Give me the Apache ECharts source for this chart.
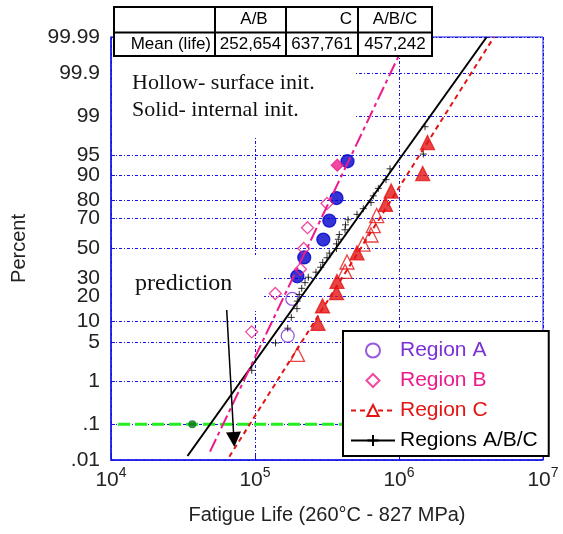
<!DOCTYPE html>
<html>
<head>
<meta charset="utf-8">
<script src="https://cdn.jsdelivr.net/npm/echarts@6/dist/echarts.min.js"></script>
<style>
  html, body { margin: 0; padding: 0; background: #fff; }
  #chart { width: 563px; height: 534px; }
</style>
</head>
<body>
<div id="chart"></div>
<script>
// ---------------- DATA ----------------
// Region A : fatigue life (cycles), plotting percent, solid = internal initiation
const lifeA  = [168700, 181600, 196700, 219700, 298200, 328100, 368100, 438900];
const pctA   = [6.25, 18.75, 31.25, 43.75, 56.25, 68.75, 81.25, 93.75];
const solidA = [false, false, true, true, true, true, true, true];

// Region B
const lifeB  = [94900, 138400, 207000, 217900, 231500, 316200, 372800];
const pctB   = [7.14, 21.43, 35.71, 50.0, 64.29, 78.57, 92.86];
const solidB = [false, false, false, false, false, false, true];

// Region C
const lifeC  = [197300, 273800, 294300, 368100, 371000, 421700, 435400, 510900,
                562300, 639000, 663000, 700000, 806000, 882700, 1461000, 1577000];
const pctC   = [3.125, 9.375, 15.625, 21.875, 28.125, 34.375, 40.625, 46.875,
                53.125, 59.375, 65.625, 71.875, 78.125, 84.375, 90.625, 96.875];
const solidC = [false, true, true, true, true, false, false, true,
                false, false, false, false, true, true, true, true];

// Regions A/B/C combined (+ markers)
const lifeABC = [94900, 138800, 168700, 178700, 195700, 196700, 203000, 211000,
                 222500, 234500, 265200, 286000, 295200, 316200, 328100, 368100,
                 368100, 378800, 384900, 421700, 425000, 442400, 510900, 565000,
                 639000, 663000, 718300, 812300, 866000, 1475000, 1516000];
const pctABC  = [1.61, 4.84, 8.06, 11.29, 14.52, 17.74, 20.97, 24.19, 27.42, 30.65,
                 33.87, 37.10, 40.32, 43.55, 46.77, 50.00, 53.23, 56.45, 59.68, 62.90,
                 66.13, 69.35, 72.58, 75.81, 79.03, 82.26, 85.48, 88.71, 91.94, 95.16, 98.39];

// Fitted lines: [life, percent] end points
const fitC   = [[66300, 0.01256], [4568000, 99.99]];
const fitABC = [[33980, 0.01316], [4064000, 99.99]];
const fitAB  = [[48700, 0.01765], [1149000, 99.99]];

// Prediction level (green) and its point, arrow
const predLine  = [[11200, 0.1], [1000000, 0.1]];
const predPoint = [[36700, 0.1]];
const arrowPts  = [[63600, 13.98], [71380, 0.0392]];

// Axis ticks
const yTickPct    = [99.99, 99.9, 99, 95, 90, 80, 70, 50, 30, 20, 10, 5, 1, 0.1, 0.01];
const yTickLabels = ['99.99', '99.9', '99', '95', '90', '80', '70', '50', '30', '20', '10', '5', '1', '.1', '.01'];

// Table
const tableHeader = ['', 'A/B', 'C', 'A/B/C'];
const tableRow    = ['Mean (life)', '252,654', '637,761', '457,242'];

// Notes
const noteText = 'Hollow- surface init.\nSolid- internal init.';
const predText = 'prediction';
const xName = 'Fatigue Life (260°C - 827 MPa)';
const yName = 'Percent';

// ---------------- probability scale (normal quantile) ----------------
function probit(p) {
  const a = [-3.969683028665376e+01, 2.209460984245205e+02, -2.759285104469687e+02,
             1.383577518672690e+02, -3.066479806614716e+01, 2.506628277459239e+00];
  const b = [-5.447609879822406e+01, 1.615858368580409e+02, -1.556989798598866e+02,
             6.680131188771972e+01, -1.328068155288572e+01];
  const c = [-7.784894002430293e-03, -3.223964580411365e-01, -2.400758277161838e+00,
             -2.549732539343734e+00, 4.374664141464968e+00, 2.938163982698783e+00];
  const d = [7.784695709041462e-03, 3.224671290700398e-01, 2.445134137142996e+00,
             3.754408661907416e+00];
  const plow = 0.02425, phigh = 1 - plow;
  let q, r;
  if (p < plow) {
    q = Math.sqrt(-2 * Math.log(p));
    return (((((c[0]*q+c[1])*q+c[2])*q+c[3])*q+c[4])*q+c[5]) / ((((d[0]*q+d[1])*q+d[2])*q+d[3])*q+1);
  }
  if (p <= phigh) {
    q = p - 0.5; r = q * q;
    return (((((a[0]*r+a[1])*r+a[2])*r+a[3])*r+a[4])*r+a[5])*q / (((((b[0]*r+b[1])*r+b[2])*r+b[3])*r+b[4])*r+1);
  }
  q = Math.sqrt(-2 * Math.log(1 - p));
  return -(((((c[0]*q+c[1])*q+c[2])*q+c[3])*q+c[4])*q+c[5]) / ((((d[0]*q+d[1])*q+d[2])*q+d[3])*q+1);
}
const P = pct => probit(pct / 100);
const yTickVals = yTickPct.map(P);
const yMin = P(0.01), yMax = P(99.99);

// ---------------- styles ----------------
const SANS = '"Liberation Sans", Arial, sans-serif';
const SERIF = '"Liberation Serif", "Times New Roman", serif';
const BLUE = '#1414e6';
const PURPLE = '#7B2FD8';
const PINK = '#EE1A8A';
const RED = '#E31414';
const FILLBLUE = '#0000CC';
const GREEN = '#22EE22';
// legend diamond icon padded to the 44x14 legend icon box so it keeps its shape
const LEGEND_DIAMOND = 'path://M0,7L0.01,7M22,0.5L28.5,7L22,13.5L15.5,7ZM43.99,7L44,7';

const chart = echarts.init(document.getElementById('chart'), null, { renderer: 'canvas' });

const pts = (life, pct, solid, solidStyle) => life.map((v, i) => {
  const item = { value: [v, P(pct[i])] };
  if (solid && solid[i]) item.itemStyle = solidStyle;
  return item;
});
const seg = arr => arr.map(d => [d[0], P(d[1])]);

// table graphic
const colX = [114, 215, 286, 358, 432];
const rowY = [7, 32.5, 56];
const tableChildren = [
  { type: 'rect', shape: { x: colX[0], y: rowY[0], width: colX[4] - colX[0], height: rowY[2] - rowY[0] },
    style: { fill: '#fff', stroke: '#000', lineWidth: 2 } },
  { type: 'line', shape: { x1: colX[0], y1: rowY[1], x2: colX[4], y2: rowY[1] }, style: { stroke: '#000', lineWidth: 2 } }
];
for (let k = 1; k < 4; k++) {
  tableChildren.push({ type: 'line', shape: { x1: colX[k], y1: rowY[0], x2: colX[k], y2: rowY[2] },
    style: { stroke: '#000', lineWidth: 2 } });
}
const hdrPos = [null, { x: 254, align: 'center' }, { x: 352, align: 'right' }, { x: 395, align: 'center' }];
for (let k = 1; k < 4; k++) {
  tableChildren.push({ type: 'text', x: hdrPos[k].x, y: (rowY[0] + rowY[1]) / 2,
    style: { text: tableHeader[k], font: '17px ' + SANS, fill: '#000', align: hdrPos[k].align, verticalAlign: 'middle' } });
}
tableChildren.push({ type: 'text', x: colX[1] - 4, y: (rowY[1] + rowY[2]) / 2,
  style: { text: tableRow[0], font: '17px ' + SANS, fill: '#000', align: 'right', verticalAlign: 'middle' } });
for (let k = 1; k < 4; k++) {
  tableChildren.push({ type: 'text', x: (colX[k] + colX[k + 1]) / 2, y: (rowY[1] + rowY[2]) / 2,
    style: { text: tableRow[k], font: '17px ' + SANS, fill: '#000', align: 'center', verticalAlign: 'middle' } });
}

const option = {
  animation: false,
  backgroundColor: '#fff',
  grid: { left: 111, right: 20, top: 37, bottom: 74, show: true, borderColor: BLUE, borderWidth: 1,
          backgroundColor: 'transparent', outerBoundsMode: 'none' },
  xAxis: {
    type: 'log', logBase: 10, min: 10000, max: 10000000,
    name: xName, nameLocation: 'middle', nameGap: 45,
    nameTextStyle: { fontFamily: SANS, fontSize: 20, color: '#222' },
    axisLine: { onZero: false, lineStyle: { color: BLUE, width: 1.5 } },
    axisTick: { inside: true, length: 4, lineStyle: { color: BLUE } },
    minorTick: { show: false },
    splitLine: { show: true, lineStyle: { color: BLUE, width: 1, type: [3, 2, 1, 2] } },
    axisLabel: {
      margin: 6,
      formatter: v => '{b|10}{s|' + Math.round(Math.log10(v)) + '}',
      rich: {
        b: { fontFamily: SANS, fontSize: 21, color: '#222', lineHeight: 28 },
        s: { fontFamily: SANS, fontSize: 14, color: '#222', lineHeight: 14, verticalAlign: 'top' }
      }
    }
  },
  yAxis: {
    type: 'value', min: yMin, max: yMax,
    name: yName, nameLocation: 'middle', nameGap: 82,
    nameTextStyle: { fontFamily: SANS, fontSize: 20, color: '#222' },
    axisLine: { show: true, onZero: false, lineStyle: { color: BLUE, width: 1.5 } },
    axisTick: { show: true, inside: true, length: 4, customValues: yTickVals, lineStyle: { color: BLUE } },
    splitLine: { show: true, lineStyle: { color: BLUE, width: 1, type: [3, 2, 1, 2] } },
    axisLabel: {
      customValues: yTickVals, margin: 11,
      fontFamily: SANS, fontSize: 21, color: '#222',
      formatter: v => {
        let best = 0;
        for (let i = 1; i < yTickVals.length; i++) {
          if (Math.abs(yTickVals[i] - v) < Math.abs(yTickVals[best] - v)) best = i;
        }
        return yTickLabels[best];
      }
    }
  },
  legend: {
    orient: 'vertical', left: 343, top: 331,
    padding: [9, 11, 5, 7], itemGap: 9, itemWidth: 44, itemHeight: 14,
    symbolKeepAspect: true,
    backgroundColor: '#fff', borderColor: '#000', borderWidth: 2, borderRadius: 0,
    textStyle: { fontFamily: SANS, fontSize: 21 },
    selectedMode: false, z: 8,
    data: [
      { name: 'Region A', textStyle: { color: PURPLE } },
      { name: 'Region B', icon: LEGEND_DIAMOND, textStyle: { color: PINK } },
      { name: 'Region C', textStyle: { color: RED } },
      { name: 'Regions A/B/C', textStyle: { color: '#000' } }
    ]
  },
  graphic: [
    { type: 'rect', z: 1, silent: true, shape: { x: 112, y: 57, width: 243, height: 79 }, style: { fill: '#fff' } },
    { type: 'rect', z: 1, silent: true, shape: { x: 112, y: 255, width: 152, height: 56 }, style: { fill: '#fff' } },
    { type: 'text', z: 1, silent: true, x: 132, y: 70,
      style: { text: noteText, font: '22px ' + SERIF, fill: '#111', lineHeight: 27, verticalAlign: 'top' } },
    { type: 'text', z: 1, silent: true, x: 135, y: 284,
      style: { text: predText, font: '24px ' + SERIF, fill: '#111', verticalAlign: 'middle' } },
    { type: 'group', z: 10, silent: true, children: tableChildren.map(c => Object.assign({ z: 10 }, c)) }
  ],
  series: [
    {
      name: 'Region A', type: 'scatter', z: 2, symbol: 'circle', symbolSize: 13,
      itemStyle: { color: 'rgba(255,255,255,0)', borderColor: PURPLE, borderWidth: 1.3 },
      data: pts(lifeA, pctA, solidA, { color: FILLBLUE, borderColor: FILLBLUE })
    },
    {
      name: 'Region B', type: 'scatter', z: 2, symbol: 'diamond', symbolSize: 12, symbolKeepAspect: true,
      itemStyle: { color: 'rgba(255,255,255,0)', borderColor: PINK, borderWidth: 1.3 },
      data: pts(lifeB, pctB, solidB, { color: PINK, borderColor: PINK })
    },
    {
      name: 'Region C pts', type: 'scatter', z: 2, symbol: 'triangle', symbolSize: 14,
      itemStyle: { color: 'rgba(255,255,255,0)', borderColor: RED, borderWidth: 1.3 },
      data: pts(lifeC, pctC, solidC, { color: RED, borderColor: RED })
    },
    {
      name: 'ABC pts', type: 'scatter', z: 2, symbol: 'path://M0,5L10,5M5,0L5,10', symbolSize: 7,
      itemStyle: { color: 'rgba(0,0,0,0)', borderColor: '#000', borderWidth: 1 },
      data: lifeABC.map((v, i) => [v, P(pctABC[i])])
    },
    {
      name: 'Region C', type: 'line', z: 3, showSymbol: false, symbol: 'triangle', symbolSize: 12,
      itemStyle: { color: '#fff', borderColor: RED, borderWidth: 1.3 },
      lineStyle: { color: RED, width: 2, type: [5, 4] },
      data: seg(fitC), silent: true
    },
    {
      name: 'Regions A/B/C', type: 'line', z: 3, showSymbol: false, symbol: 'path://M0,5L10,5M5,0L5,10',
      itemStyle: { color: 'rgba(0,0,0,0)', borderColor: '#000', borderWidth: 1 },
      lineStyle: { color: '#000', width: 2, type: 'solid' },
      data: seg(fitABC), silent: true
    },
    {
      name: 'Fit A/B', type: 'line', z: 3, showSymbol: false,
      lineStyle: { color: PINK, width: 2, type: [14, 4, 4, 4] },
      data: seg(fitAB), silent: true
    },
    {
      name: 'Prediction', type: 'line', z: 2, showSymbol: false,
      lineStyle: { color: GREEN, width: 3, type: [12, 5] },
      data: seg(predLine), silent: true
    },
    {
      name: 'Prediction arrow', type: 'line', z: 4, showSymbol: false, symbol: 'none',
      lineStyle: { color: '#000', width: 1.5 }, data: [], silent: true,
      markLine: {
        silent: true, symbol: ['none', 'triangle'], symbolSize: 15,
        label: { show: false },
        lineStyle: { color: '#000', width: 1.5, type: 'solid' },
        itemStyle: { color: '#000' },
        emphasis: { disabled: true },
        data: [[{ coord: [arrowPts[0][0], P(arrowPts[0][1])] }, { coord: [arrowPts[1][0], P(arrowPts[1][1])] }]]
      }
    },
    {
      name: 'Prediction pt', type: 'scatter', z: 3, symbol: 'circle', symbolSize: 8,
      itemStyle: { color: '#0B6B1E' },
      data: seg(predPoint), silent: true
    }
  ]
};
chart.setOption(option);
</script>
</body>
</html>
